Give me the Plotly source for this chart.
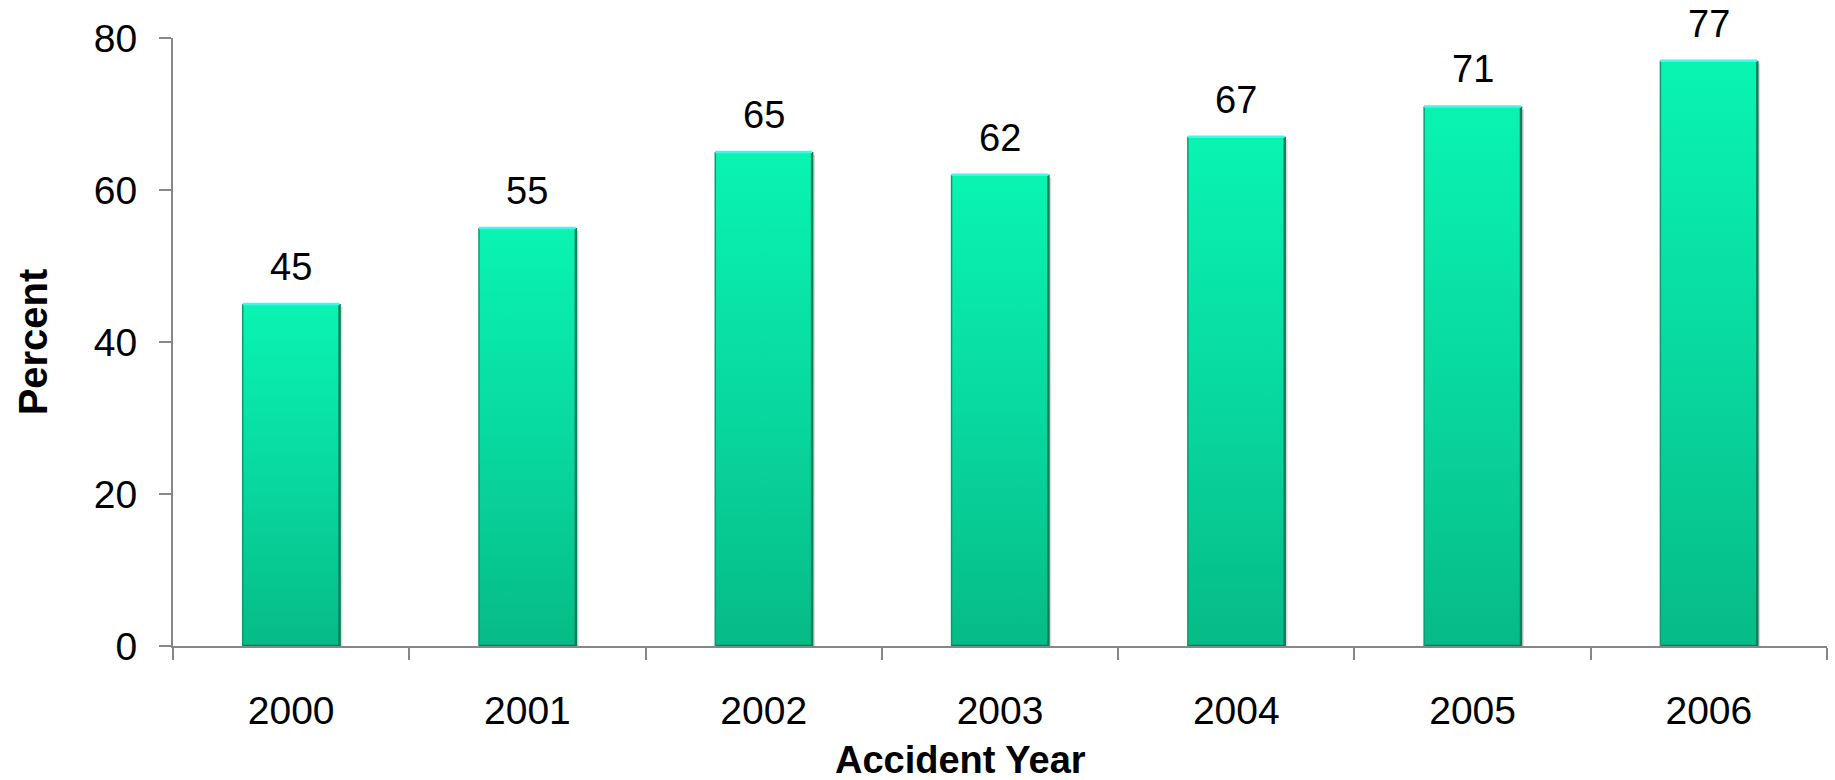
import plotly.graph_objects as go

# Share of accidents by year (percent)
years = ["2000", "2001", "2002", "2003", "2004", "2005", "2006"]
percent = [45, 55, 65, 62, 67, 71, 77]
y_ticks = [0, 20, 40, 60, 80]

BAR_HALF = 0.205
FONT = "Liberation Sans, Arial, sans-serif"
AXIS_GRAY = "#878787"

fig = go.Figure()

for i, (yr, v) in enumerate(zip(years, percent)):
    x0, x1 = i - BAR_HALF, i + BAR_HALF
    # soft drop shadow to the right of each bar
    fig.add_trace(go.Scatter(
        x=[x0 + 0.012, x0 + 0.012, x1 + 0.012, x1 + 0.012, x0 + 0.012],
        y=[-0.5, v - 0.4, v - 0.4, -0.5, -0.5],
        fill="toself", fillcolor="rgba(150,150,150,0.35)",
        line=dict(width=0), mode="lines", hoverinfo="skip", showlegend=False,
    ))
    # bar body with a vertical gradient
    fig.add_trace(go.Scatter(
        x=[x0, x0, x1, x1, x0],
        y=[0, v, v, 0, 0],
        fill="toself",
        fillgradient=dict(
            type="vertical", start=0, stop=v,
            colorscale=[[0, "#06bb86"], [0.5, "#08d9a0"], [1, "#09f4b2"]],
        ),
        line=dict(width=0), mode="lines", name=yr,
        hovertemplate=f"{yr}: {v}%<extra></extra>", showlegend=False,
    ))
    # bevel edges: dark right/bottom, light top
    fig.add_trace(go.Scatter(
        x=[x1, x1, x0], y=[v, 0, 0], mode="lines",
        line=dict(color="#0a7d5c", width=2.5), hoverinfo="skip", showlegend=False,
    ))
    fig.add_trace(go.Scatter(
        x=[x0, x0], y=[0, v], mode="lines",
        line=dict(color="#0a9a70", width=1.5), hoverinfo="skip", showlegend=False,
    ))
    fig.add_trace(go.Scatter(
        x=[x0, x1], y=[v, v], mode="lines",
        line=dict(color="#45f5e6", width=2.5), hoverinfo="skip", showlegend=False,
    ))
    fig.add_annotation(
        x=i, y=v, text=str(v), showarrow=False, yanchor="bottom", yshift=14,
        font=dict(family=FONT, size=38, color="#000000"),
    )

# x-axis title sits slightly left of the plot centre
fig.add_annotation(
    xref="paper", yref="paper", x=0.476, y=-0.188, yanchor="middle",
    text="<b>Accident Year</b>", showarrow=False,
    font=dict(family=FONT, size=38, color="#000000"),
)

fig.update_layout(
    width=1835, height=780,
    margin=dict(l=173, r=8, t=38, b=134),
    paper_bgcolor="white", plot_bgcolor="white",
    font=dict(family=FONT, color="#000000"),
    xaxis=dict(
        range=[-0.5, 6.5],
        tickmode="array", tickvals=list(range(len(years))), ticktext=years,
        ticks="", showgrid=False, zeroline=False,
        showline=True, linecolor=AXIS_GRAY, linewidth=2,
        tickfont=dict(size=39), ticklabelstandoff=29,
        minor=dict(
            tickmode="array",
            tickvals=[k - 0.5 for k in range(len(years) + 1)],
            ticks="outside", ticklen=12, tickwidth=2, tickcolor=AXIS_GRAY,
            showgrid=False,
        ),
    ),
    yaxis=dict(
        range=[0, 80], tickmode="array", tickvals=y_ticks,
        ticks="outside", ticklen=12, tickwidth=2, tickcolor=AXIS_GRAY,
        showgrid=False, zeroline=False,
        showline=True, linecolor=AXIS_GRAY, linewidth=2,
        tickfont=dict(size=39), ticklabelstandoff=14,
        title=dict(text="<b>Percent</b>", font=dict(size=40), standoff=34),
    ),
)

fig.write_html("out.html")
